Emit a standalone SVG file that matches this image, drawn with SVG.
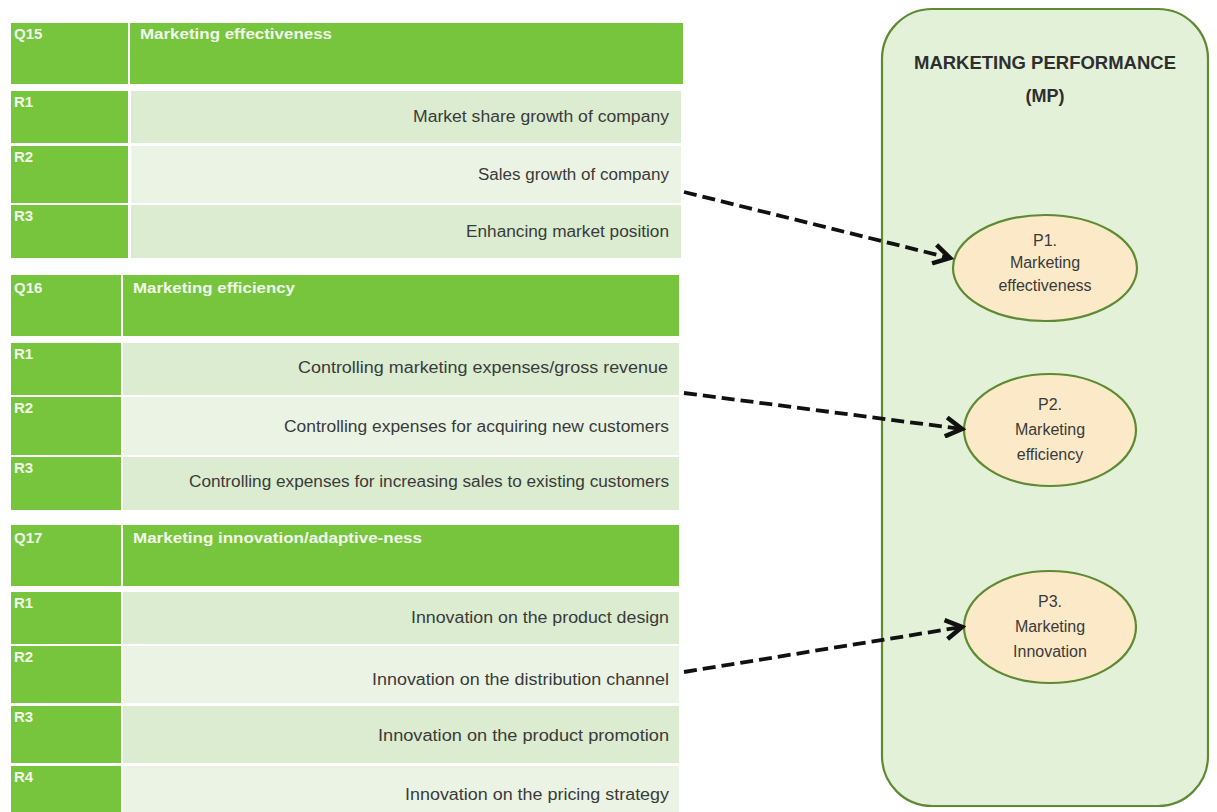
<svg xmlns="http://www.w3.org/2000/svg" width="1217" height="812" viewBox="0 0 1217 812">
  <defs>
    <style>
      .hdr { fill: #77c53c; }
      .rowA { fill: #dbecd0; }
      .rowB { fill: #ebf4e4; }
      .hdrTxt { font-family: "Liberation Sans", Arial, sans-serif; font-size: 15px; font-weight: bold; fill: #f2f9ec; }
      .cellTxt { font-family: "Liberation Sans", Arial, sans-serif; font-size: 16px; fill: #3a3a3a; text-anchor: end; }
      .panel { fill: #e3f1d9; stroke: #5d8a32; stroke-width: 2.2; }
      .ell { fill: #fbe9c8; stroke: #5d8a32; stroke-width: 2.2; }
      .title { font-family: "Liberation Sans", Arial, sans-serif; font-size: 18px; font-weight: bold; fill: #2e2e2e; text-anchor: middle; }
      .ellTxt { font-family: "Liberation Sans", Arial, sans-serif; font-size: 16px; fill: #3a3a3a; text-anchor: middle; }
      .conn { fill: none; stroke: #111; stroke-width: 3.8; stroke-dasharray: 13 6; }
    </style>
    <marker id="arrow" viewBox="0 0 12 12" refX="10" refY="6" markerWidth="6" markerHeight="6" orient="auto" markerUnits="strokeWidth">
      <path d="M1.5,1 L10,6 L1.5,11" fill="none" stroke="#111" stroke-width="2.4" stroke-linejoin="miter"/>
    </marker>
  </defs>
  <rect width="1217" height="812" fill="#ffffff"/>

  <!-- Table Q15 -->
  <g id="q15">
    <rect class="hdr" x="11" y="23" width="117" height="61"/>
    <rect class="hdr" x="130" y="23" width="553" height="61"/>
    <text class="hdrTxt" x="14" y="39">Q15</text>
    <text class="hdrTxt" x="140" y="39" textLength="192" lengthAdjust="spacingAndGlyphs">Marketing effectiveness</text>
  </g>
  <g id="q15-r1">
    <rect class="hdr" x="11" y="91" width="117" height="52"/>
    <rect class="rowA" x="131" y="91" width="550" height="52"/>
    <text class="hdrTxt" x="14" y="107">R1</text>
    <text class="cellTxt" x="669" y="122" textLength="256" lengthAdjust="spacingAndGlyphs">Market share growth of company</text>
  </g>
  <g id="q15-r2">
    <rect class="hdr" x="11" y="146" width="117" height="57"/>
    <rect class="rowB" x="131" y="146" width="550" height="57"/>
    <text class="hdrTxt" x="14" y="162">R2</text>
    <text class="cellTxt" x="669" y="180" textLength="191" lengthAdjust="spacingAndGlyphs">Sales growth of company</text>
  </g>
  <g id="q15-r3">
    <rect class="hdr" x="11" y="205" width="117" height="53"/>
    <rect class="rowA" x="131" y="205" width="550" height="53"/>
    <text class="hdrTxt" x="14" y="221">R3</text>
    <text class="cellTxt" x="669" y="237" textLength="203" lengthAdjust="spacingAndGlyphs">Enhancing market position</text>
  </g>

  <!-- Table Q16 -->
  <g id="q16">
    <rect class="hdr" x="11" y="275" width="110" height="61"/>
    <rect class="hdr" x="123" y="275" width="556" height="61"/>
    <text class="hdrTxt" x="14" y="293">Q16</text>
    <text class="hdrTxt" x="133" y="293" textLength="162" lengthAdjust="spacingAndGlyphs">Marketing efficiency</text>
  </g>
  <g id="q16-r1">
    <rect class="hdr" x="11" y="343" width="110" height="52"/>
    <rect class="rowA" x="123" y="343" width="556" height="52"/>
    <text class="hdrTxt" x="14" y="359">R1</text>
    <text class="cellTxt" x="668" y="373" textLength="370" lengthAdjust="spacingAndGlyphs">Controlling marketing expenses/gross revenue</text>
  </g>
  <g id="q16-r2">
    <rect class="hdr" x="11" y="397" width="110" height="58"/>
    <rect class="rowB" x="123" y="397" width="556" height="58"/>
    <text class="hdrTxt" x="14" y="413">R2</text>
    <text class="cellTxt" x="669" y="432" textLength="385" lengthAdjust="spacingAndGlyphs">Controlling expenses for acquiring new customers</text>
  </g>
  <g id="q16-r3">
    <rect class="hdr" x="11" y="457" width="110" height="53"/>
    <rect class="rowA" x="123" y="457" width="556" height="53"/>
    <text class="hdrTxt" x="14" y="473">R3</text>
    <text class="cellTxt" x="669" y="487" textLength="480" lengthAdjust="spacingAndGlyphs">Controlling expenses for increasing sales to existing customers</text>
  </g>

  <!-- Table Q17 -->
  <g id="q17">
    <rect class="hdr" x="11" y="525" width="110" height="61"/>
    <rect class="hdr" x="123" y="525" width="556" height="61"/>
    <text class="hdrTxt" x="14" y="543">Q17</text>
    <text class="hdrTxt" x="133" y="543" textLength="289" lengthAdjust="spacingAndGlyphs">Marketing innovation/adaptive-ness</text>
  </g>
  <g id="q17-r1">
    <rect class="hdr" x="11" y="592" width="110" height="52"/>
    <rect class="rowA" x="123" y="592" width="556" height="52"/>
    <text class="hdrTxt" x="14" y="608">R1</text>
    <text class="cellTxt" x="669" y="623" textLength="258" lengthAdjust="spacingAndGlyphs">Innovation on the product design</text>
  </g>
  <g id="q17-r2">
    <rect class="hdr" x="11" y="646" width="110" height="57"/>
    <rect class="rowB" x="123" y="646" width="556" height="57"/>
    <text class="hdrTxt" x="14" y="662">R2</text>
    <text class="cellTxt" x="669" y="685" textLength="297" lengthAdjust="spacingAndGlyphs">Innovation on the distribution channel</text>
  </g>
  <g id="q17-r3">
    <rect class="hdr" x="11" y="706" width="110" height="57"/>
    <rect class="rowA" x="123" y="706" width="556" height="57"/>
    <text class="hdrTxt" x="14" y="722">R3</text>
    <text class="cellTxt" x="669" y="741" textLength="291" lengthAdjust="spacingAndGlyphs">Innovation on the product promotion</text>
  </g>
  <g id="q17-r4">
    <rect class="hdr" x="11" y="766" width="110" height="46"/>
    <rect class="rowB" x="123" y="766" width="556" height="46"/>
    <text class="hdrTxt" x="14" y="782">R4</text>
    <text class="cellTxt" x="669" y="800" textLength="264" lengthAdjust="spacingAndGlyphs">Innovation on the pricing strategy</text>
  </g>

  <!-- Marketing Performance panel -->
  <g id="mp">
    <rect class="panel" x="882" y="9" width="326" height="797" rx="50" ry="50"/>
    <text class="title" x="1045" y="69" textLength="262" lengthAdjust="spacingAndGlyphs">MARKETING PERFORMANCE</text>
    <text class="title" x="1045" y="102">(MP)</text>
  </g>
  <g id="p1">
    <ellipse class="ell" cx="1045" cy="268" rx="92" ry="53"/>
    <text class="ellTxt" x="1045" y="246">P1.</text>
    <text class="ellTxt" x="1045" y="268">Marketing</text>
    <text class="ellTxt" x="1045" y="291">effectiveness</text>
  </g>
  <g id="p2">
    <ellipse class="ell" cx="1050" cy="430" rx="86" ry="56"/>
    <text class="ellTxt" x="1050" y="410">P2.</text>
    <text class="ellTxt" x="1050" y="435">Marketing</text>
    <text class="ellTxt" x="1050" y="460">efficiency</text>
  </g>
  <g id="p3">
    <ellipse class="ell" cx="1050" cy="627" rx="86" ry="56"/>
    <text class="ellTxt" x="1050" y="607">P3.</text>
    <text class="ellTxt" x="1050" y="632">Marketing</text>
    <text class="ellTxt" x="1050" y="657">Innovation</text>
  </g>

  <!-- Connectors -->
  <g id="connectors">
    <path class="conn" d="M684,192 L950,258" marker-end="url(#arrow)"/>
    <path class="conn" d="M684,393 L962,429" marker-end="url(#arrow)"/>
    <path class="conn" d="M684,672 L962,627" marker-end="url(#arrow)"/>
  </g>
</svg>
